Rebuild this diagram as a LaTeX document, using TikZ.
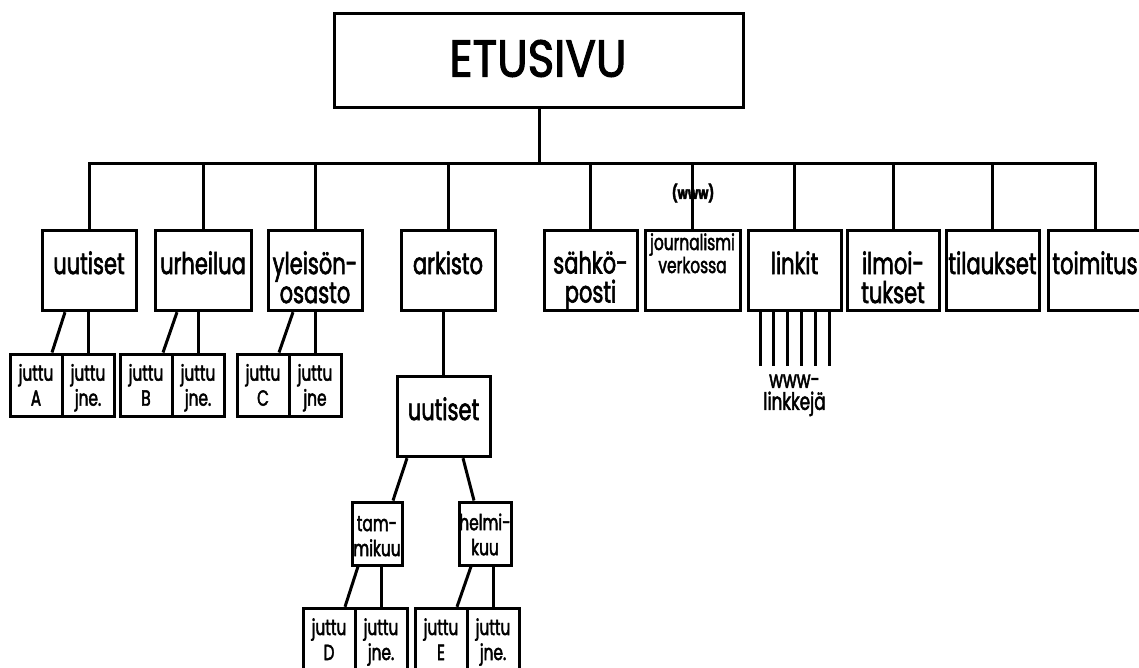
\documentclass[tikz,border=0pt]{standalone}
\usepackage{fontspec}
\setmainfont[FakeStretch=0.7, FakeBold=2]{Poppins}
\usetikzlibrary{positioning}
\begin{document}
\begin{tikzpicture}[x=1pt, y=-1pt, line width=3pt,
    box/.style ={draw, line width=3pt, inner sep=0pt, minimum width=94pt, minimum height=80.4pt},
    juttu/.style ={box, minimum width=52pt, minimum height=62pt},
    kuu/.style ={box, minimum width=51pt, minimum height=63pt},
    txt/.style ={align=center, inner sep=0pt, font=\fontsize{30}{29}\selectfont},
    stxt/.style ={align=center, inner sep=0pt, font=\fontsize{22}{25}\selectfont}]
   \clip (0,0) rectangle (1139,668);
   % etusivu
   \node[box, minimum width=409pt, minimum height=94pt] (etu) at (539,60.5) {};
   \node[txt, font=\fontsize{52}{56}\selectfont\addfontfeature{FakeStretch=0.87}] (etu-t) at (538,58.5) {ETUSIVU};
   % first level
   \node[box] (uut) at (89,270.5) {};
   \node[box, minimum width=96pt] (urh) at (203,270.5) {};
   \node[box] (yle) at (315,270.5) {};
   \node[box] (ark) at (448,270.5) {};
   \node[box, minimum width=93pt] (sah) at (590.5,270.5) {};
   \node[box, minimum width=95pt] (jou) at (692.5,270.5) {};
   \node[box, minimum width=93pt] (lin) at (794.5,270.5) {};
   \node[box, minimum width=92pt] (ilm) at (893,270.5) {};
   \node[box, minimum width=93pt] (til) at (992.5,270.5) {};
   \node[box] (toi) at (1095,270.5) {};
   \node[txt, below=21pt of uut.north] (uut-t) {uutiset};
   \node[txt, below=21pt of urh.north] (urh-t) {urheilua};
   \node[txt, below=21pt of yle.north] (yle-t) {yleisön-\\osasto};
   \node[txt, below=21pt of ark.north] (ark-t) {arkisto};
   \node[txt, below=21pt of sah.north] (sah-t) {sähkö-\\posti};
   \node[txt, below=3pt of jou.north, font=\fontsize{22}{20}\selectfont] (jou-t) {journalismi\\verkossa};
   \node[txt, below=21pt of lin.north] (lin-t) {linkit};
   \node[txt, below=21pt of ilm.north] (ilm-t) {ilmoi-\\tukset};
   \node[txt, below=21pt of til.north] (til-t) {tilaukset};
   \node[txt, below=21pt of toi.north] (toi-t) {toimitus};
   \coordinate (bar) at (539,164);
   \draw (etu.south) -- (bar);
   \draw (uut.north) |- (bar) -| (toi.north);
   \foreach \n in {urh,yle,ark,sah,jou,lin,ilm,til}
     \draw (\n.north) -- (\n.north |- bar);
   \node[inner sep=0pt, font=\fontsize{17}{17}\bfseries] (wz) at (693,193) {(www)};
   % juttu boxes
   \node[juttu] (jA) at (36,385) {};
   \node[juttu] (jA2) at (88,385) {};
   \node[juttu] (jB) at (146,385) {};
   \node[juttu] (jB2) at (198,385) {};
   \node[juttu] (jC) at (263,385) {};
   \node[juttu] (jC2) at (315,385) {};
   \node[stxt, below=10pt of jA.north] (jA-t) {juttu\\A};
   \node[stxt, below=10pt of jA2.north] (jA2-t) {juttu\\jne.};
   \node[stxt, below=10pt of jB.north] (jB-t) {juttu\\B};
   \node[stxt, below=10pt of jB2.north] (jB2-t) {juttu\\jne.};
   \node[stxt, below=10pt of jC.north] (jC-t) {juttu\\C};
   \node[stxt, below=10pt of jC2.north] (jC2-t) {juttu\\jne};
   \draw ([xshift=-24pt]uut.south) -- ([xshift=16pt]jA.north);
   \draw (jA2.north) -- (jA2.north |- uut.south);
   \draw ([xshift=-26pt]urh.south) -- ([xshift=17pt]jB.north);
   \draw (jB2.north) -- (jB2.north |- urh.south);
   \draw ([xshift=-22pt]yle.south) -- ([xshift=16pt]jC.north);
   \draw (jC2.north) -- (jC2.north |- yle.south);
   % arkisto
   \node[box, minimum width=93pt] (uut2) at (443.5,416.5) {};
   \node[txt, below=21pt of uut2.north] (uut2-t) {uutiset};
   \draw (uut2.north) -- (uut2.north |- ark.south);
   \node[kuu, minimum width=50pt] (tam) at (377,533.5) {};
   \node[kuu, minimum width=52pt] (hel) at (485,533.5) {};
   \node[stxt, below=14pt of tam.north] (tam-t) {tam-\\mikuu};
   \node[stxt, below=11.5pt of hel.north] (hel-t) {helmi-\\kuu};
   \draw ([xshift=-36.5pt]uut2.south) -- ([xshift=16pt]tam.north);
   \draw ([xshift=19.5pt]uut2.south) -- ([xshift=-11pt]hel.north);
   \node[juttu] (jD) at (329,639.3) {};
   \node[juttu] (jD2) at (381,639.3) {};
   \node[juttu] (jE) at (441,639.3) {};
   \node[juttu] (jE2) at (493,639.3) {};
   \node[stxt, below=10pt of jD.north] (jD-t) {juttu\\D};
   \node[stxt, below=10pt of jD2.north] (jD2-t) {juttu\\jne.};
   \node[stxt, below=10pt of jE.north] (jE-t) {juttu\\E};
   \node[stxt, below=10pt of jE2.north] (jE2-t) {juttu\\jne.};
   \draw ([xshift=-19pt]tam.south) -- ([xshift=16pt]jD.north);
   \draw (jD2.north) -- (jD2.north |- tam.south);
   \draw ([xshift=-14pt]hel.south) -- ([xshift=16pt]jE.north);
   \draw (jE2.north) -- (jE2.north |- hel.south);
   % linkit
   \node[stxt, font=\fontsize{24}{22}\selectfont, below=61pt of lin.south] (www) {www-\\linkkejä};
   \foreach \dx in {-34.5,-20.7,-6.9,6.9,20.7,34.5}
     \draw[shorten >=7pt] ([xshift=\dx pt]lin.south) -- ([xshift=\dx pt]lin.south |- www.north);
 \end{tikzpicture}
\end{document}
